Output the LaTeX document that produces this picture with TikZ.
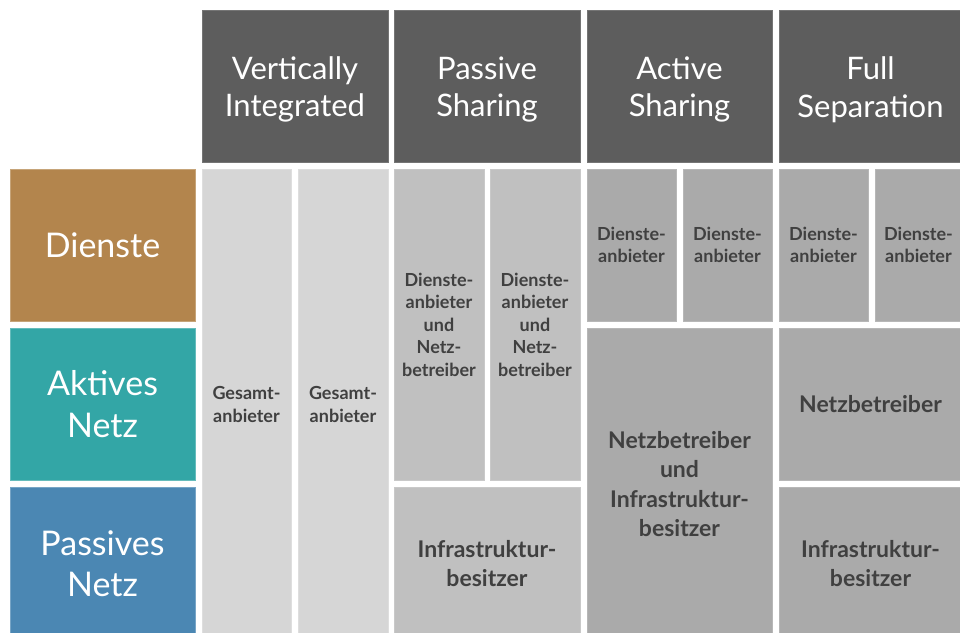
\documentclass[tikz,border=0pt]{standalone}
\usepackage{fontspec}
\setmainfont{Lato}
\definecolor{hdrgray}{HTML}{5D5D5D}
\definecolor{dienstec}{HTML}{B3854D}
\definecolor{aktivc}{HTML}{33A6A6}
\definecolor{passivc}{HTML}{4B87B3}
\definecolor{vigray}{HTML}{D6D6D6}
\definecolor{psgray}{HTML}{C0C0C0}
\definecolor{asgray}{HTML}{AAAAAA}
\definecolor{txtgray}{HTML}{404040}
\tikzset{
  cellbox/.style={rectangle, inner sep=0pt, outer sep=0pt, align=center, line width=0.8pt},
  hdr/.style={cellbox, fill=hdrgray, draw=hdrgray!85!white, text=white, font=\fontsize{31}{37.5}\selectfont},
  rowlab/.style={cellbox, text=white, font=\fontsize{34}{41.5}\selectfont},
  smalltxt/.style={text=txtgray, font=\bfseries\fontsize{18}{22.5}\selectfont},
  bigtxt/.style={text=txtgray, font=\bfseries\fontsize{23}{29.5}\selectfont},
  vibox/.style={cellbox, fill=vigray, draw=vigray!80!white},
  psbox/.style={cellbox, fill=psgray, draw=psgray!85!white},
  asbox/.style={cellbox, fill=asgray, draw=asgray!85!white},
}
\newcommand\cell[7]{%
  \node[#6, minimum width={(#4-#2)*1pt}, minimum height={(#5-#3)*1pt}]
    (#1) at ({(#2+#4)/2},{(#3+#5)/2}) {#7};}
\begin{document}
\begin{tikzpicture}[x=1pt, y=-1pt]
\useasboundingbox (0,0) rectangle (960,632);
\clip (0,0) rectangle (960,632);
% headers (boxes, then text slightly lowered)
\cell{hVI}{202}{10}{388}{162}{hdr}{}
\cell{hPS}{394}{10}{580}{162}{hdr}{}
\cell{hAS}{587}{10}{772}{162}{hdr}{}
\cell{hFS}{779}{10}{962}{162}{hdr}{}
\tikzset{hdrtxt/.style={align=center, text=white, inner sep=0pt, font=\fontsize{31}{37.5}\selectfont, yshift=-3.5pt}}
\node[hdrtxt] (tVI) at (hVI.center) {Vertically\\Integrated};
\node[hdrtxt] (tPS) at (hPS.center) {Passive\\Sharing};
\node[hdrtxt] (tAS) at (hAS.center) {Active\\Sharing};
\node[hdrtxt] (tFS) at (hFS.center) {Full\\Separation};
% row labels
\cell{lD}{10}{169}{195}{321}{rowlab, fill=dienstec, draw=dienstec!75!white}{Dienste}
\cell{lA}{10}{328}{195}{480}{rowlab, fill=aktivc, draw=aktivc!75!white}{Aktives\\Netz}
\cell{lP}{10}{487}{195}{640}{rowlab, fill=passivc, draw=passivc!75!white}{Passives\\Netz}
% vertically integrated
\cell{v1}{202}{169}{291}{640}{vibox, smalltxt}{Gesamt-\\anbieter}
\cell{v2}{298}{169}{388}{640}{vibox, smalltxt}{Gesamt-\\anbieter}
% passive sharing
\cell{p1}{394}{169}{484}{480}{psbox, smalltxt}{Dienste-\\anbieter\\und\\Netz-\\betreiber}
\cell{p2}{490}{169}{580}{480}{psbox, smalltxt}{Dienste-\\anbieter\\und\\Netz-\\betreiber}
\cell{p3}{394}{487}{580}{640}{psbox, bigtxt}{Infrastruktur-\\besitzer}
% active sharing
\cell{a1}{587}{169}{676}{321}{asbox, smalltxt}{Dienste-\\anbieter}
\cell{a2}{683}{169}{772}{321}{asbox, smalltxt}{Dienste-\\anbieter}
\cell{a3}{587}{328}{772}{640}{asbox, bigtxt}{Netzbetreiber\\und\\Infrastruktur-\\besitzer}
% full separation
\cell{f1}{779}{169}{868}{321}{asbox, smalltxt}{Dienste-\\anbieter}
\cell{f2}{875}{169}{962}{321}{asbox, smalltxt}{Dienste-\\anbieter}
\cell{f3}{779}{328}{962}{480}{asbox, bigtxt}{Netzbetreiber}
\cell{f4}{779}{487}{962}{640}{asbox, bigtxt}{Infrastruktur-\\besitzer}
\end{tikzpicture}
\end{document}
